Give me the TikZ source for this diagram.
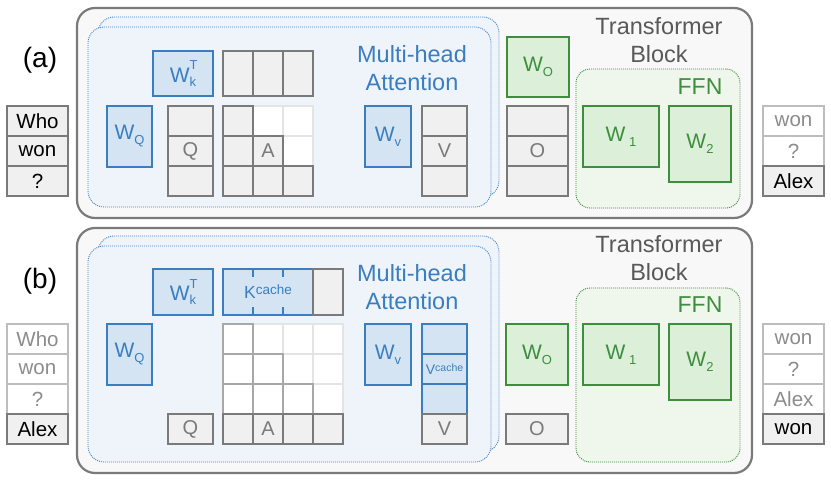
\documentclass[tikz,border=0pt]{standalone}
\usepackage{fontspec}
\setmainfont{Liberation Sans}
\definecolor{cgray}{HTML}{7A7A7A}
\definecolor{cfill}{HTML}{F0F0F0}
\definecolor{ctext}{HTML}{7A7A7A}
\definecolor{clight}{HTML}{E4E4E4}
\definecolor{cmid}{HTML}{A8A8A8}
\definecolor{ctokl}{HTML}{BDBDBD}
\definecolor{ctokt}{HTML}{8C8C8C}
\definecolor{cout}{HTML}{7A7A7A}
\definecolor{coutfill}{HTML}{F8F8F8}
\definecolor{bdark}{HTML}{3A7EBF}
\definecolor{bfill}{HTML}{D5E4F3}
\definecolor{bregion}{HTML}{EFF3FA}
\definecolor{bdot}{HTML}{4A8AC8}
\definecolor{gdark}{HTML}{3E8E3E}
\definecolor{gfill}{HTML}{DCEFD9}
\definecolor{gregion}{HTML}{EFF7ED}
\definecolor{ttext}{HTML}{595959}
\newcommand\fs[1]{\fontsize{#1}{#1}\selectfont}
\newcommand\lowsub[1]{\raisebox{-5pt}{\fs{13}#1}}
\newcommand\wkt{W\rlap{\raisebox{12.5pt}{\fs{13}T}}\raisebox{-4pt}{\fs{13}k}}
\tikzset{
  base/.style={inner sep=0pt, outer sep=0pt, anchor=north west, line width=1.4pt},
  sz/.style 2 args={minimum width=#1pt, minimum height=#2pt},
  gcell/.style={base, draw=cgray, fill=cfill, text=ctext, font=\fs{20}},
  lcell/.style={base, draw=clight, fill=white},
  mcell/.style={base, draw=cmid, fill=white},
  bcell/.style={base, draw=bdark, fill=bfill, text=bdark},
  wbl/.style={base, draw=bdark, fill=bfill, text=bdark, font=\fs{21}},
  wgr/.style={base, draw=gdark, fill=gfill, text=gdark, font=\fs{21}},
  tok/.style={base, draw=cgray, fill=cfill, text=black, font=\fs{20.5}, sz={61}{30}},
  ftok/.style={base, draw=ctokl, fill=white, text=ctokt, font=\fs{20.5}, sz={61}{30}},
  outer/.style={base, draw=cout, fill=coutfill, line width=2.2pt, rounded corners=18pt},
  mha/.style={base, draw=bdot, fill=bregion, line width=0.9pt, dash pattern=on 1pt off 1pt, rounded corners=16pt},
  ffn/.style={base, draw=gdark, fill=gregion, line width=0.9pt, dash pattern=on 1pt off 1pt, rounded corners=14pt},
  ttl/.style={text=ttext, font=\fs{23.5}, align=center, inner sep=0pt},
  btl/.style={text=bdark, font=\fs{23.5}, align=center, inner sep=0pt},
  gtl/.style={text=gdark, font=\fs{23}, inner sep=0pt},
  plabel/.style={text=black, font=\fs{28}, inner sep=0pt}
}
\begin{document}
\begin{tikzpicture}[x=1pt,y=-1pt]
\useasboundingbox (0,0) rectangle (831,482);
% ================= panel (a) =================
\node[plabel] (la) at (40,60) {(a)};
\node[outer, sz={675}{210}] (blockA) at (77,8) {};
\node[mha, sz={401}{180}] (mhaAback) at (98,17) {};
\node[mha, sz={403}{180}] (mhaA) at (88,27) {};
\node[btl] (mhaAt) at (412,68) {Multi-head\\[4pt]Attention};
\node[ttl] (tbA) at (659,40) {Transformer\\[5pt]Block};
\node[ffn, sz={164}{139}] (ffnA) at (576,69) {};
\node[gtl] (ffnAt) at (700,87) {FFN};
% weights
\node[wbl, sz={60}{45}] (wkA) at (153,51) {\wkt};
\node[wbl, sz={45}{61}] (wqA) at (107,106) {W\lowsub{Q}};
\node[wbl, sz={46}{61}] (wvA) at (365,106) {W\lowsub{v}};
\node[wgr, sz={62}{60}] (woA) at (507,37) {W\lowsub{O}};
\node[wgr, sz={76}{61}] (w1A) at (583,106) {W\,\lowsub{1}};
\node[wgr, sz={62}{76}] (w2A) at (669,106) {W\lowsub{2}};
% K^T row
\foreach \j in {0,1,2} \node[gcell, sz={30}{45}] (ktA\j) at (223+30*\j,51) {};
% Q, V, O columns
\foreach \i/\t in {0/,1/Q,2/} \node[gcell, sz={45}{30}] (qA\i) at (168,106+30*\i) {\t};
\foreach \i/\t in {0/,1/V,2/} \node[gcell, sz={45}{30}] (vA\i) at (422,106+30*\i) {\t};
\foreach \i/\t in {0/,1/O,2/} \node[gcell, sz={61}{30}] (oA\i) at (507,106+30*\i) {\t};
% A grid
\foreach \i/\j in {0/1,0/2,1/2} \node[lcell, sz={30}{30}] (aA\i\j) at (223+30*\j,106+30*\i) {};
\foreach \i/\j/\t in {0/0/,1/0/,1/1/A,2/0/,2/1/,2/2/} \node[gcell, sz={30}{30}] (aA\i\j) at (223+30*\j,106+30*\i) {\t};
% tokens
\node[tok] (inA0) at (7,106) {Who};
\node[tok] (inA1) at (7,136) {won};
\node[tok] (inA2) at (7,166) {?};
\node[ftok] (outA0) at (763,106) {won};
\node[ftok] (outA1) at (763,136) {?};
\node[tok] (outA2) at (763,166) {Alex};
% ================= panel (b) =================
\node[plabel] (lb) at (40,281) {(b)};
\node[outer, sz={675}{245}] (blockB) at (77,228) {};
\node[mha, sz={401}{216}] (mhaBback) at (98,236) {};
\node[mha, sz={403}{216}] (mhaB) at (88,246) {};
\node[btl] (mhaBt) at (412,287) {Multi-head\\[4pt]Attention};
\node[ttl] (tbB) at (659,258) {Transformer\\[5pt]Block};
\node[ffn, sz={164}{174}] (ffnB) at (576,288) {};
\node[gtl] (ffnBt) at (700,305) {FFN};
% weights
\node[wbl, sz={60}{46}] (wkB) at (153,269) {\wkt};
\node[wbl, sz={45}{61}] (wqB) at (107,324) {W\lowsub{Q}};
\node[wbl, sz={46}{61}] (wvB) at (365,324) {W\lowsub{v}};
\node[wgr, sz={62}{61}] (woB) at (506,324) {W\lowsub{O}};
\node[wgr, sz={76}{61}] (w1B) at (583,324) {W\,\lowsub{1}};
\node[wgr, sz={62}{76}] (w2B) at (669,324) {W\lowsub{2}};
% K cache
\node[bcell, sz={90}{46}, font=\fs{17.5}] (kcB) at (223,269) {K\raisebox{4pt}{\fs{13.5}cache}};
\foreach \x in {253,283} {
  \draw[bdark, line width=1.4pt] (kcB.north west -| \x,0) -- ++(0,8);
  \draw[bdark, line width=1.4pt] (kcB.south west -| \x,0) -- ++(0,-8);
}
\node[gcell, sz={30}{46}] (knB) at (313,269) {};
% Q
\node[gcell, sz={45}{30}] (qB) at (168,414) {Q};
% V column
\node[bcell, sz={45}{30}] (vB0) at (422,324) {};
\node[bcell, sz={45}{30}, font=\fs{14}] (vB1) at (422,354) {V\raisebox{3pt}{\fs{10.5}cache}};
\node[bcell, sz={45}{30}] (vB2) at (422,384) {};
\node[gcell, sz={45}{30}] (vB3) at (422,414) {V};
% O
\node[gcell, sz={62}{30}] (oB) at (506,414) {O};
% A grid
\foreach \i/\j in {0/1,0/2,0/3,1/2,1/3,2/3} \node[lcell, sz={30}{30}] (aB\i\j) at (223+30*\j,324+30*\i) {};
\foreach \i/\j in {0/0,1/0,1/1,2/0,2/1,2/2} \node[mcell, sz={30}{30}] (aB\i\j) at (223+30*\j,324+30*\i) {};
\foreach \j/\t in {0/,1/A,2/,3/} \node[gcell, sz={30}{30}] (aB3\j) at (223+30*\j,414) {\t};
% tokens
\node[ftok] (inB0) at (7,324) {Who};
\node[ftok] (inB1) at (7,354) {won};
\node[ftok] (inB2) at (7,384) {?};
\node[tok] (inB3) at (7,414) {Alex};
\node[ftok] (outB0) at (763,324) {won};
\node[ftok] (outB1) at (763,354) {?};
\node[ftok] (outB2) at (763,384) {Alex};
\node[tok] (outB3) at (763,414) {won};
\end{tikzpicture}
\end{document}
